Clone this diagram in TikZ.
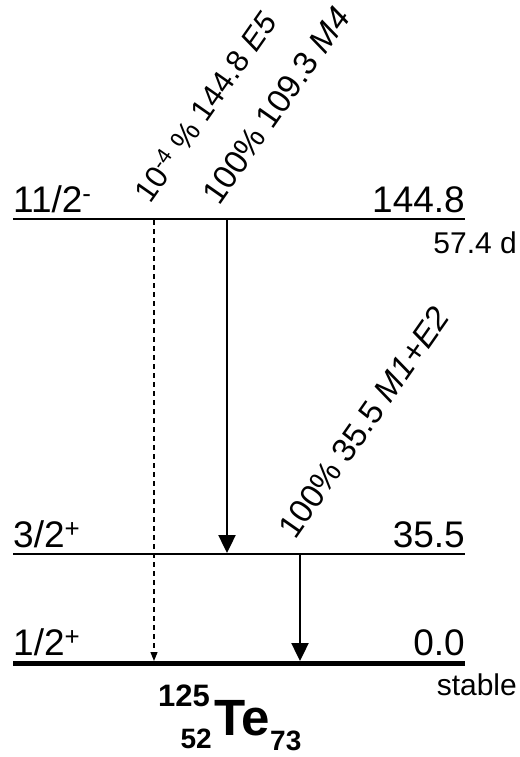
\documentclass[tikz,border=0pt]{standalone}
\usepackage{fontspec}
\setmainfont{Liberation Sans}
\usetikzlibrary{arrows.meta}
\tikzset{
  lvl/.style={line width=2pt, black},
  lvlground/.style={line width=5pt, black},
  gtrans/.style={line width=2.4pt, -{Triangle[length=18pt, width=17pt]}},
  gweak/.style={line width=1.2pt, dash pattern=on 5pt off 4pt, -{Triangle[length=9pt, width=7pt]}},
  spinlab/.style={anchor=base west, inner sep=0pt, font=\fontsize{37}{40}\selectfont},
  enlab/.style={anchor=base east, inner sep=0pt, font=\fontsize{37}{40}\selectfont},
  halflab/.style={anchor=base east, inner sep=0pt, font=\fontsize{30}{33}\selectfont},
  gamlab/.style={anchor=base west, inner sep=0pt, rotate=55, font=\fontsize{33}{36}\selectfont},
  nuc/.style={inner sep=0pt, font=\fontsize{31}{34}\selectfont\bfseries}
}
\begin{document}
\begin{tikzpicture}[x=1pt, y=-1pt]
  \useasboundingbox (0,0) rectangle (519,757);

  % levels
  \coordinate (l145w) at (13,219);  \coordinate (l145e) at (465,219);
  \coordinate (l35w) at (13,554);   \coordinate (l35e) at (465,554);
  \coordinate (l0w) at (13,663);    \coordinate (l0e) at (465,663);
  \draw[lvl] (l145w) -- (l145e);
  \draw[lvl] (l35w) -- (l35e);
  \draw[lvlground] (l0w) -- (l0e);

  \node[spinlab] (s145) at (13,212) {11/2\textsuperscript{-}};
  \node[enlab] (e145) at (465,212) {144.8};
  \node[halflab] (t145) at (517,253) {57.4 d};
  \node[spinlab] (s35) at (13,547) {3/2\textsuperscript{+}};
  \node[enlab] (e35) at (465,547) {35.5};
  \node[spinlab] (s0) at (13,655) {1/2\textsuperscript{+}};
  \node[enlab] (e0) at (465,655) {0.0};
  \node[halflab] (t0) at (517,695) {stable};

  % transitions
  \coordinate (gE5a) at (154,220);  \coordinate (gE5b) at (154,661);
  \coordinate (gM4a) at (227,220);  \coordinate (gM4b) at (227,553);
  \coordinate (gM1a) at (300,555);  \coordinate (gM1b) at (300,661);
  \draw[gweak] (gE5a) -- (gE5b);
  \draw[gtrans] (gM4a) -- (gM4b);
  \draw[gtrans] (gM1a) -- (gM1b);

  \node[gamlab, font=\fontsize{31}{34}\selectfont] (lE5) at (150,205) {10\textsuperscript{-4} \% 144.8 \textit{E5}};
  \node[gamlab] (lM4) at (219,207) {100\% 109.3 \textit{M4}};
  \node[gamlab] (lM1) at (295,541) {100\% 35.5 \textit{M1+E2}};

  % nuclide
  \node[nuc, anchor=base east] (mass) at (210,706) {125};
  \node[nuc, anchor=base west, font=\fontsize{51}{54}\selectfont\bfseries] (elem) at (214,735) {Te};
  \node[nuc, anchor=base east, font=\fontsize{28}{30}\selectfont\bfseries] (zz) at (212,748) {52};
  \node[nuc, anchor=base west, font=\fontsize{28}{30}\selectfont\bfseries] (nn) at (270,750) {73};
\end{tikzpicture}
\end{document}
